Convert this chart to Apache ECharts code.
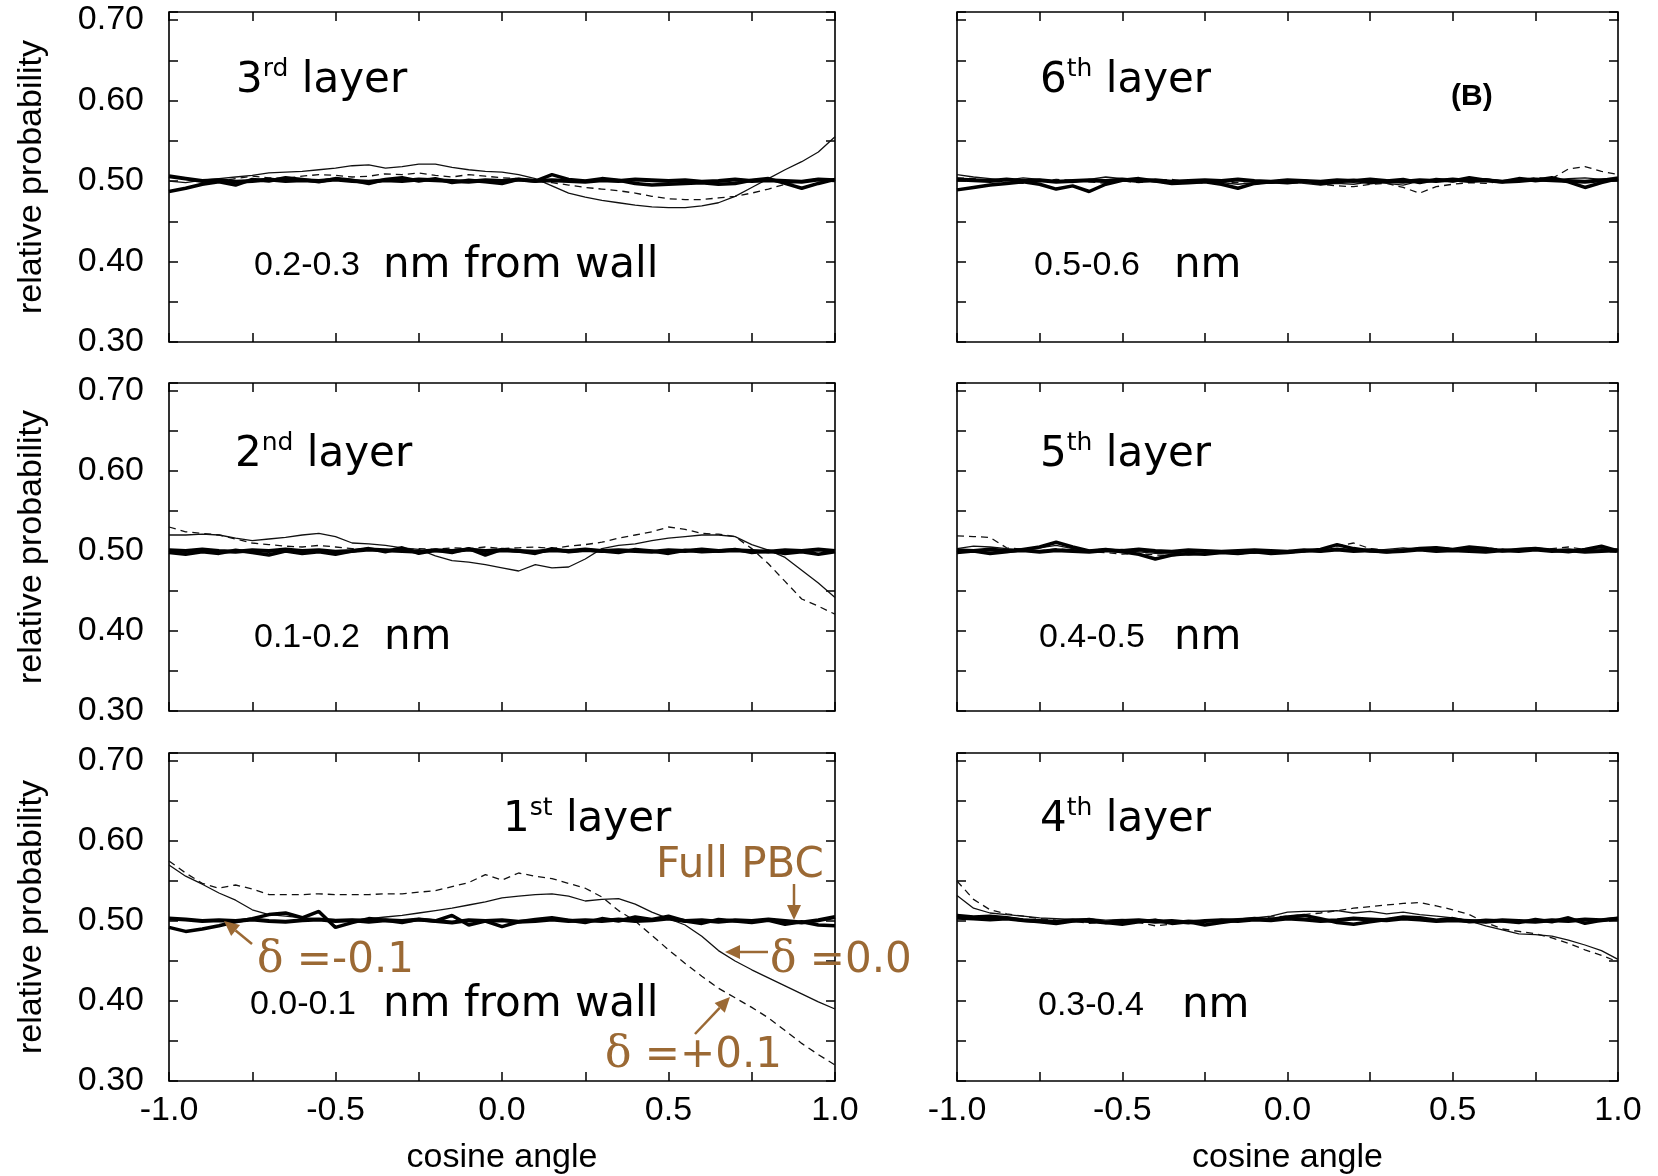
<!DOCTYPE html>
<html>
<head>
<meta charset="utf-8">
<title>Orientation distribution per layer</title>
<script src="https://cdn.jsdelivr.net/npm/echarts@6/dist/echarts.min.js"></script>
<style>
  html, body { margin: 0; padding: 0; background: #fff; }
  #chart { width: 1658px; height: 1176px; }
</style>
</head>
<body>
<div id="chart"></div>
<script>
// cosine of the orientation angle (x values shared by every panel)
const cosAngle = [-1.00,-0.95,-0.90,-0.85,-0.80,-0.75,-0.70,-0.65,-0.60,-0.55,-0.50,-0.45,-0.40,-0.35,-0.30,-0.25,-0.20,-0.15,-0.10,-0.05,
  0.00,0.05,0.10,0.15,0.20,0.25,0.30,0.35,0.40,0.45,0.50,0.55,0.60,0.65,0.70,0.75,0.80,0.85,0.90,0.95,1.00];

const xTickLabels = ['-1.0', '-0.5', '0.0', '0.5', '1.0'];
const yTickLabels = ['0.30', '0.40', '0.50', '0.60', '0.70'];

// 1st layer, 0.0-0.1 nm from wall
const L1_pbc = [.503,.502,.500,.501,.500,.502,.500,.499,.501,.502,.500,.501,.499,.501,.500,.502,.500,.498,.501,.500,
  .501,.499,.500,.502,.500,.501,.500,.502,.500,.501,.503,.500,.501,.499,.501,.500,.502,.500,.498,.501,.505];
const L1_dm = [.492,.487,.490,.494,.499,.503,.508,.510,.504,.512,.492,.498,.503,.501,.498,.502,.500,.507,.495,.500,
  .493,.499,.502,.504,.501,.498,.503,.500,.505,.502,.506,.500,.497,.502,.500,.498,.501,.496,.499,.495,.494];
const L1_d0 = [.570,.556,.546,.535,.526,.514,.508,.506,.504,.503,.502,.502,.503,.505,.507,.510,.513,.516,.520,.524,
  .529,.531,.533,.534,.531,.525,.527,.528,.521,.511,.503,.495,.481,.463,.450,.439,.429,.419,.409,.399,.390];
const L1_dp = [.575,.560,.547,.541,.545,.540,.533,.533,.533,.534,.533,.533,.533,.534,.534,.536,.538,.543,.548,.558,
  .551,.560,.556,.553,.547,.541,.530,.513,.500,.482,.464,.447,.431,.416,.404,.392,.379,.363,.347,.333,.320];

// 2nd layer, 0.1-0.2 nm
const L2_pbc = [.501,.500,.502,.500,.499,.501,.500,.502,.500,.501,.499,.500,.502,.501,.500,.499,.501,.500,.502,.500,
  .501,.500,.499,.501,.500,.502,.500,.501,.500,.499,.501,.500,.502,.500,.501,.500,.499,.501,.500,.502,.500];
const L2_dm = [.498,.496,.499,.497,.501,.498,.495,.500,.497,.499,.496,.500,.503,.499,.504,.497,.501,.498,.503,.495,
  .502,.500,.497,.503,.499,.501,.500,.498,.502,.500,.497,.501,.499,.500,.502,.498,.500,.497,.499,.496,.499];
const L2_d0 = [.520,.520,.521,.520,.516,.513,.515,.517,.520,.522,.518,.510,.509,.507,.504,.502,.494,.488,.486,.483,
  .479,.475,.483,.479,.480,.490,.503,.507,.509,.513,.516,.518,.520,.520,.518,.508,.501,.492,.476,.460,.442];
const L2_dp = [.530,.524,.522,.520,.515,.510,.508,.506,.505,.507,.505,.503,.502,.500,.501,.503,.502,.504,.503,.505,
  .503,.504,.505,.503,.506,.508,.511,.516,.520,.524,.530,.527,.522,.521,.518,.503,.484,.462,.440,.431,.421];

// 3rd layer, 0.2-0.3 nm
const L3_pbc = [.506,.503,.500,.501,.499,.500,.502,.500,.501,.500,.502,.500,.499,.501,.500,.502,.501,.500,.499,.501,
  .500,.502,.500,.501,.500,.499,.501,.500,.502,.501,.500,.501,.499,.500,.502,.500,.501,.500,.499,.502,.501];
const L3_dm = [.487,.491,.496,.499,.495,.502,.500,.504,.502,.499,.503,.501,.497,.502,.504,.500,.503,.498,.501,.499,
  .497,.502,.500,.508,.502,.500,.503,.501,.497,.495,.496,.497,.498,.496,.497,.501,.503,.497,.491,.497,.502];
const L3_d0 = [.500,.498,.501,.503,.505,.507,.510,.511,.512,.514,.516,.519,.520,.516,.518,.521,.521,.517,.514,.512,
  .511,.508,.503,.494,.485,.480,.476,.473,.470,.468,.467,.467,.469,.473,.481,.492,.503,.514,.524,.536,.555];
const L3_dp = [.505,.503,.501,.500,.503,.506,.504,.503,.506,.508,.507,.505,.506,.509,.508,.510,.507,.505,.508,.506,
  .504,.503,.500,.498,.495,.492,.490,.488,.485,.481,.478,.477,.477,.479,.481,.485,.490,.496,.500,.503,.501];

// 4th layer, 0.3-0.4 nm
const L4_pbc = [.504,.503,.502,.503,.501,.500,.499,.501,.500,.498,.500,.501,.499,.500,.498,.500,.501,.500,.502,.501,
  .503,.502,.500,.501,.503,.502,.501,.503,.502,.500,.501,.500,.499,.501,.500,.499,.501,.500,.502,.501,.503];
const L4_dm = [.507,.505,.506,.504,.501,.499,.497,.500,.502,.498,.496,.499,.501,.497,.499,.495,.498,.501,.503,.502,
  .505,.507,.503,.498,.496,.499,.502,.505,.504,.501,.503,.499,.501,.500,.498,.502,.499,.504,.497,.501,.503];
const L4_d0 = [.532,.516,.510,.508,.506,.504,.503,.502,.503,.501,.502,.500,.502,.499,.501,.500,.502,.503,.504,.506,
  .511,.512,.512,.513,.510,.512,.509,.511,.508,.506,.504,.500,.494,.489,.484,.483,.481,.476,.470,.463,.452];
const L4_dp = [.550,.527,.514,.509,.506,.503,.501,.500,.497,.499,.501,.498,.494,.496,.499,.500,.501,.502,.503,.505,
  .506,.508,.510,.513,.516,.518,.520,.522,.523,.519,.514,.508,.498,.490,.487,.484,.479,.472,.464,.457,.449];

// 5th layer, 0.4-0.5 nm
const L5_pbc = [.501,.500,.502,.500,.501,.499,.501,.500,.499,.501,.500,.502,.500,.499,.501,.500,.499,.500,.501,.500,
  .499,.501,.500,.502,.500,.501,.499,.500,.502,.500,.501,.500,.499,.501,.500,.502,.500,.501,.499,.500,.501];
const L5_dm = [.498,.500,.497,.499,.502,.505,.511,.505,.500,.502,.499,.496,.490,.495,.497,.496,.498,.497,.499,.497,
  .498,.500,.502,.508,.503,.500,.499,.501,.503,.504,.502,.505,.503,.500,.502,.503,.501,.499,.502,.506,.500];
const L5_d0 = [.503,.506,.505,.503,.501,.504,.507,.503,.501,.500,.502,.499,.497,.496,.495,.496,.497,.498,.497,.499,
  .500,.501,.499,.503,.501,.500,.502,.504,.502,.501,.503,.502,.501,.500,.503,.504,.502,.500,.501,.503,.502];
const L5_dp = [.519,.518,.517,.504,.502,.500,.503,.501,.499,.498,.496,.497,.495,.494,.496,.497,.498,.496,.499,.498,
  .501,.499,.503,.506,.510,.503,.501,.500,.502,.505,.503,.501,.504,.502,.500,.501,.503,.505,.502,.500,.498];

// 6th layer, 0.5-0.6 nm
const L6_pbc = [.502,.501,.500,.502,.500,.501,.499,.500,.501,.500,.502,.500,.501,.499,.500,.501,.500,.502,.500,.499,
  .501,.500,.499,.501,.500,.502,.500,.499,.501,.500,.502,.500,.501,.499,.500,.502,.501,.500,.499,.501,.502];
const L6_dm = [.489,.492,.495,.497,.499,.496,.490,.494,.487,.496,.501,.503,.500,.497,.498,.499,.496,.491,.497,.499,
  .498,.500,.497,.499,.501,.498,.500,.502,.498,.502,.500,.504,.501,.499,.503,.501,.504,.499,.492,.498,.503];
const L6_d0 = [.508,.505,.503,.501,.504,.502,.500,.498,.502,.505,.503,.501,.499,.497,.499,.500,.498,.496,.498,.497,
  .499,.497,.495,.497,.496,.499,.497,.495,.500,.502,.499,.501,.503,.500,.502,.499,.501,.503,.504,.502,.505];
const L6_dp = [.504,.503,.500,.498,.497,.500,.502,.501,.499,.497,.500,.498,.501,.502,.499,.497,.499,.498,.496,.499,
  .497,.498,.496,.494,.493,.496,.497,.492,.485,.493,.496,.498,.497,.500,.502,.504,.503,.515,.518,.512,.508];

// panel placement: column 0 = layers 3,2,1 (top to bottom), column 1 = layers 6,5,4
const panels = [
  { col: 0, row: 0, lines: [L3_dp, L3_d0, L3_dm, L3_pbc] },
  { col: 0, row: 1, lines: [L2_dp, L2_d0, L2_dm, L2_pbc] },
  { col: 0, row: 2, lines: [L1_dp, L1_d0, L1_dm, L1_pbc] },
  { col: 1, row: 0, lines: [L6_dp, L6_d0, L6_dm, L6_pbc] },
  { col: 1, row: 1, lines: [L5_dp, L5_d0, L5_dm, L5_pbc] },
  { col: 1, row: 2, lines: [L4_dp, L4_d0, L4_dm, L4_pbc] }
];
const seriesNames = ['δ =+0.1', 'δ =0.0', 'δ =-0.1', 'Full PBC'];

const GRID_X = [169, 957], GRID_W = [666, 661];
const GRID_Y = [12, 383, 753], GRID_H = [330, 328, 328];

const NUM_FONT = 'Liberation Sans, Arial, Helvetica, sans-serif';
const NOTE_FONT = 'DejaVu Sans, Verdana, sans-serif';
const BROWN = '#9b6934';

const lineStyles = [
  { width: 1.3, type: [7, 5], color: '#111' },   // delta = +0.1
  { width: 1.3, type: 'solid', color: '#111' },  // delta = 0.0
  { width: 3.5, type: 'solid', color: '#000' },  // delta = -0.1
  { width: 4.0, type: 'solid', color: '#000' }   // full PBC
];

function xFmt(v) {
  const hit = xTickLabels.find(l => Math.abs(parseFloat(l) - v) < 1e-6);
  return hit || '';
}
function yFmt(v) {
  const hit = yTickLabels.find(l => Math.abs(parseFloat(l) - v) < 1e-6);
  return hit || '';
}

const tick = { inside: true, length: 9, lineStyle: { color: '#000', width: 1.5 } };
const grids = [], xAxes = [], yAxes = [], series = [];

panels.forEach((p, gi) => {
  grids.push({
    left: GRID_X[p.col], top: GRID_Y[p.row], width: GRID_W[p.col], height: GRID_H[p.row],
    show: true, borderColor: '#000', borderWidth: 1.6, backgroundColor: 'transparent'
  });
  const bottomRow = p.row === 2, leftCol = p.col === 0;
  xAxes.push({
    gridIndex: gi, type: 'value', min: -1, max: 1, interval: 0.25, position: 'bottom',
    axisLine: { show: false, onZero: false }, axisTick: tick, splitLine: { show: false },
    axisLabel: { show: bottomRow, margin: 13, fontSize: 34, fontFamily: NUM_FONT, color: '#000', formatter: xFmt },
    name: bottomRow ? 'cosine angle' : '', nameLocation: 'middle', nameGap: 60,
    nameTextStyle: { fontSize: 34, fontFamily: NUM_FONT, color: '#000' }
  });
  xAxes.push({
    gridIndex: gi, type: 'value', min: -1, max: 1, interval: 0.25, position: 'top',
    axisLine: { show: false, onZero: false }, axisTick: tick, splitLine: { show: false },
    axisLabel: { show: false }
  });
  yAxes.push({
    gridIndex: gi, type: 'value', min: 0.30, max: 0.71, interval: 0.05, position: 'left',
    axisLine: { show: false, onZero: false }, axisTick: tick, splitLine: { show: false },
    axisLabel: { show: leftCol, margin: 25, fontSize: 34, fontFamily: NUM_FONT, color: '#000', formatter: yFmt },
    name: leftCol ? 'relative probability' : '', nameLocation: 'middle', nameGap: 120,
    nameTextStyle: { fontSize: 34, fontFamily: NUM_FONT, color: '#000' }
  });
  yAxes.push({
    gridIndex: gi, type: 'value', min: 0.30, max: 0.71, interval: 0.05, position: 'right',
    axisLine: { show: false, onZero: false }, axisTick: tick, splitLine: { show: false },
    axisLabel: { show: false }
  });
  p.lines.forEach((vals, si) => {
    series.push({
      name: seriesNames[si], type: 'line', xAxisIndex: gi * 2, yAxisIndex: gi * 2,
      data: cosAngle.map((x, i) => [x, vals[i]]),
      symbol: 'none', silent: true, lineStyle: lineStyles[si], z: 2 + si
    });
  });
});

// layer headings with superscript ordinals
function heading(x, y, num, suf) {
  return {
    type: 'text', x: x, y: y, z: 50,
    style: {
      text: '{n|' + num + '}{s|' + suf + '}{n| layer}',
      verticalAlign: 'middle', align: 'left',
      rich: {
        n: { fontSize: 42, fontFamily: NOTE_FONT, fill: '#000', lineHeight: 48 },
        s: { fontSize: 25, fontFamily: NOTE_FONT, fill: '#000', lineHeight: 34, verticalAlign: 'top' }
      }
    }
  };
}
function txt(x, y, s, font, size, color, weight) {
  return {
    type: 'text', x: x, y: y, z: 50,
    style: { text: s, fontFamily: font, fontSize: size, fill: color || '#000', fontWeight: weight || 'normal',
             verticalAlign: 'middle', align: 'left' }
  };
}
function deltaLabel(x, y, rest) {
  return {
    type: 'text', x: x, y: y, z: 50,
    style: {
      text: '{d|δ}{r|' + rest + '}', verticalAlign: 'middle', align: 'left',
      rich: {
        d: { fontSize: 44, fontFamily: 'DejaVu Serif, serif', fill: BROWN },
        r: { fontSize: 42, fontFamily: NOTE_FONT, fill: BROWN }
      }
    }
  };
}
function arrow(x1, y1, x2, y2) {
  const a = Math.atan2(y2 - y1, x2 - x1), L = 15, W = 7;
  const bx = x2 - L * Math.cos(a), by = y2 - L * Math.sin(a);
  return [
    { type: 'line', z: 50, shape: { x1: x1, y1: y1, x2: bx, y2: by }, style: { stroke: BROWN, lineWidth: 2.5 } },
    { type: 'polygon', z: 50, shape: { points: [[x2, y2],
        [bx + W * Math.sin(a), by - W * Math.cos(a)], [bx - W * Math.sin(a), by + W * Math.cos(a)]] },
      style: { fill: BROWN } }
  ];
}

const graphics = [
  heading(236, 81, '3', 'rd'),
  txt(254, 266, '0.2-0.3', NUM_FONT, 34),
  txt(383, 266, 'nm from wall', NOTE_FONT, 42),
  heading(235, 455, '2', 'nd'),
  txt(254, 638, '0.1-0.2', NUM_FONT, 34),
  txt(384, 638, 'nm', NOTE_FONT, 42),
  heading(503, 820, '1', 'st'),
  txt(250, 1005, '0.0-0.1', NUM_FONT, 34),
  txt(383, 1005, 'nm from wall', NOTE_FONT, 42),
  heading(1040, 81, '6', 'th'),
  txt(1451, 97, '(B)', NUM_FONT, 30, '#000', 'bold'),
  txt(1034, 266, '0.5-0.6', NUM_FONT, 34),
  txt(1174, 266, 'nm', NOTE_FONT, 42),
  heading(1040, 455, '5', 'th'),
  txt(1039, 638, '0.4-0.5', NUM_FONT, 34),
  txt(1174, 638, 'nm', NOTE_FONT, 42),
  heading(1040, 820, '4', 'th'),
  txt(1038, 1006, '0.3-0.4', NUM_FONT, 34),
  txt(1182, 1006, 'nm', NOTE_FONT, 42),
  txt(656, 866, 'Full PBC', NOTE_FONT, 42, BROWN),
  deltaLabel(257, 961, ' =-0.1'),
  deltaLabel(770, 961, ' =0.0'),
  deltaLabel(605, 1056, ' =+0.1')
].concat(
  arrow(252, 944, 224, 921),
  arrow(794, 884, 794, 920),
  arrow(768, 952, 725, 952),
  arrow(695, 1034, 730, 997)
);

const chart = echarts.init(document.getElementById('chart'), null, { renderer: 'canvas' });
chart.setOption({
  backgroundColor: '#fff',
  animation: false,
  grid: grids,
  xAxis: xAxes,
  yAxis: yAxes,
  series: series,
  graphic: graphics
});
</script>
</body>
</html>
